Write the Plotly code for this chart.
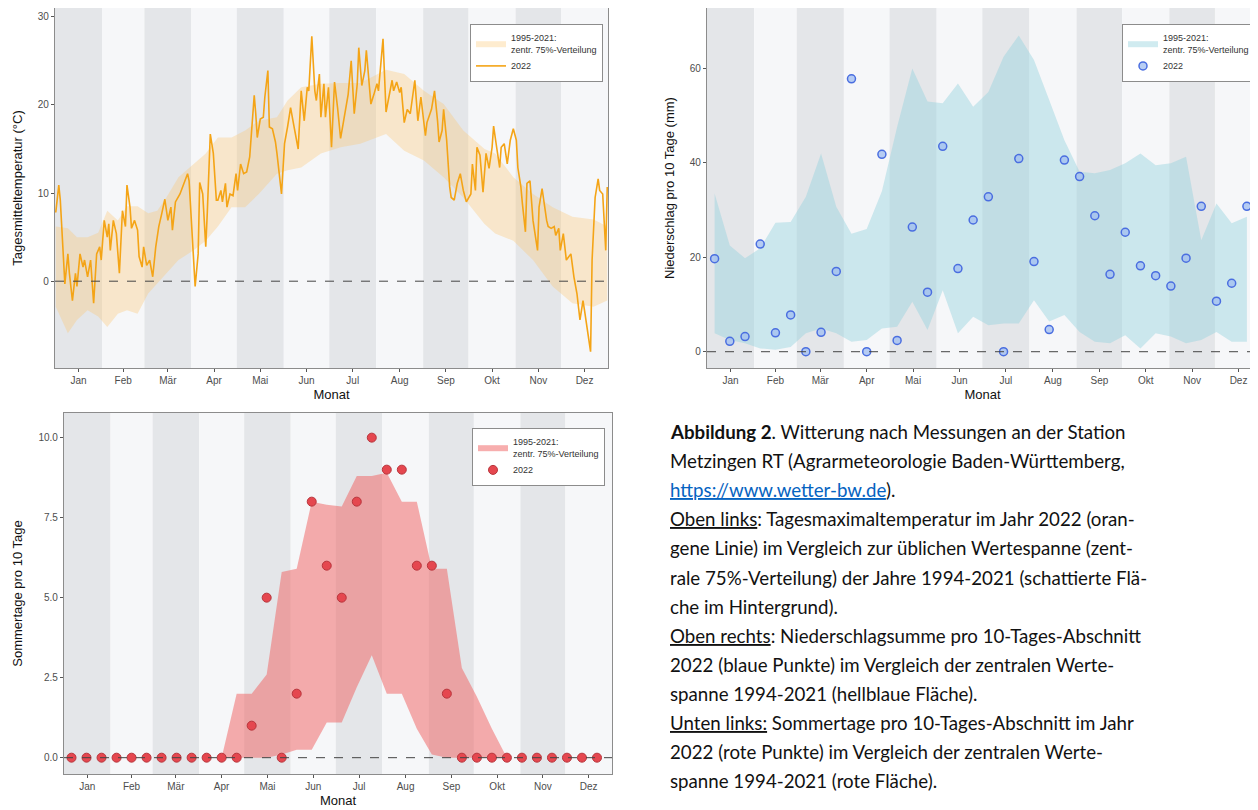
import plotly.graph_objects as go

# page body has an 8px margin at top/left; the figure fills the rest of the window
OFF = 8
W, H = 1258 - OFF, 810 - OFF

# ---------------- data ----------------
month_names = ["Jan", "Feb", "Mär", "Apr", "Mai", "Jun", "Jul", "Aug", "Sep", "Okt", "Nov", "Dez"]
month_lengths = [31, 28, 31, 30, 31, 30, 31, 31, 30, 31, 30, 31]

# daily mean temperature 2022 (day of year, °C)
temp_days = [1, 3, 4, 6, 7, 9, 10, 12, 14, 15, 17, 19, 20, 22, 24, 26, 28, 30, 31, 33, 35, 36, 37, 39, 41, 43,
             45, 47, 48, 50, 51, 53, 55, 56, 58, 59, 61, 63, 65, 67, 69, 71, 73, 75, 77, 78, 80, 83, 85, 88, 89,
             91, 93, 95, 96, 98, 100, 101, 103, 105, 107, 108, 110, 111, 113, 114, 116, 118, 120, 121, 123, 125,
             127, 129, 130, 132, 133, 134, 136, 138, 139, 141, 142, 144, 146, 147, 150, 152, 154, 156, 158, 161,
             163, 165, 167, 168, 170, 172, 173, 175, 176, 178, 179, 181, 183, 185, 187, 189, 191, 194, 196, 198,
             200, 201, 203, 205, 206, 208, 209, 211, 213, 214, 217, 219, 221, 223, 224, 226, 228, 229, 231, 233,
             235, 238, 240, 242, 245, 246, 249, 251, 253, 254, 256, 257, 259, 261, 262, 264, 266, 268, 270, 272,
             275, 276, 278, 279, 281, 283, 285, 287, 289, 290, 292, 294, 295, 297, 299, 301, 303, 305, 306, 308,
             309, 311, 312, 314, 316, 319, 320, 322, 325, 326, 328, 330, 331, 333, 334, 336, 338, 341, 343, 345,
             347, 349, 350, 352, 354, 355, 357, 359, 360, 362, 364, 365]
temp_2022 = [7.8, 10.9, 9.2, 3.1, -0.3, 3.1, 0.9, -2.2, 0.9, -0.6, 3.1, 1.6, 2.4, 0.5, 2.4, -2.5, 3.1, 3.9, 2.4, 6.9,
             5.0, 6.5, 3.5, 6.9, 5.4, 0.9, 8.0, 6.2, 10.9, 8.4, 6.0, 6.9, 5.8, 2.8, 1.6, 3.9, 1.8, 2.4, 0.5, 3.9,
             6.2, 7.7, 9.3, 6.9, 8.4, 5.8, 9.0, 9.9, 10.9, 12.2, 11.4, 5.4, -0.6, 3.1, 11.2, 9.9, 3.9, 7.7, 16.7,
             14.5, 9.2, 9.2, 10.3, 9.0, 11.1, 8.4, 9.9, 9.7, 12.2, 10.3, 13.3, 12.2, 12.4, 14.1, 16.7, 21.1, 19.0,
             16.3, 18.4, 18.6, 20.9, 23.9, 17.5, 17.3, 15.8, 14.5, 9.9, 15.6, 17.5, 19.7, 17.8, 15.0, 21.6, 18.2,
             22.0, 21.6, 27.8, 21.6, 20.5, 23.5, 18.6, 22.4, 18.6, 22.0, 15.2, 22.6, 19.7, 16.2, 18.2, 21.2, 25.0,
             19.0, 22.4, 26.5, 22.2, 23.9, 26.2, 22.0, 20.1, 21.2, 22.4, 21.6, 27.5, 19.2, 20.9, 22.8, 21.6, 22.6,
             21.4, 22.0, 18.0, 19.5, 19.0, 22.8, 18.2, 20.9, 16.5, 18.0, 19.5, 21.6, 18.2, 15.8, 17.1, 19.5, 16.0,
             10.7, 9.5, 9.2, 11.1, 12.2, 10.3, 9.0, 9.9, 13.3, 10.3, 15.2, 14.3, 10.1, 14.5, 12.8, 15.2, 17.6,
             15.2, 12.9, 15.2, 15.6, 13.3, 16.0, 17.3, 16.0, 12.9, 10.7, 8.8, 5.6, 11.1, 11.4, 6.9, 3.5, 8.4, 10.5,
             6.9, 6.2, 6.0, 6.2, 5.2, 6.0, 3.5, 5.4, 2.4, 3.1, 0.5, -1.4, -4.4, -2.2, -3.3, -5.5, -8.0, 2.4, 9.5,
             11.6, 10.3, 9.9, 3.5, 10.7]

# 1995-2021 central 75% band of daily temperature
temp_band_days = [1, 9, 15, 22, 29, 35, 42, 48, 55, 62, 68, 74, 82, 92, 100, 108, 117, 126, 135, 147,
                  154, 163, 176, 189, 202, 219, 231, 244, 257, 270, 284, 291, 303, 316, 329, 342, 356, 365]
temp_band_upper = [6.2, 6.0, 5.0, 5.0, 5.5, 8.0, 6.9, 8.5, 8.5, 7.7, 8.0, 9.5, 11.8, 13.3, 14.5, 16.3, 16.3, 17.1,
                   18.2, 18.6, 20.5, 22.0, 22.4, 22.5, 22.5, 24.0, 23.5, 21.6, 20.1, 17.1, 15.0, 14.5, 11.8, 9.9,
                   8.4, 7.3, 7.0, 6.2]
temp_band_lower = [-2.9, -5.9, -4.4, -3.3, -4.0, -5.2, -3.7, -3.3, -3.7, -1.4, -0.3, 0.9, 2.4, 3.5, 4.6, 6.2, 8.4,
                   8.4, 9.9, 12.2, 12.6, 12.9, 14.5, 15.2, 15.6, 16.7, 14.8, 13.7, 11.8, 9.5, 6.5, 5.4, 4.6, 2.4,
                   -0.6, -2.5, -2.9, -2.2]

# 10-day periods (Dekaden) 1..36
dekade = list(range(1, 37))
precip_2022 = [19.7, 2.2, 3.2, 22.8, 4.0, 7.8, 0.0, 4.1, 17.0, 57.8, 0.0, 41.8, 2.4, 26.4, 12.6, 43.5, 17.6, 27.9,
               32.8, 0.0, 40.9, 19.1, 4.7, 40.6, 37.1, 28.8, 16.4, 25.3, 18.2, 16.1, 13.9, 19.8, 30.8, 10.7, 14.5,
               30.8]
precip_upper = [33.5, 22.5, 19.8, 21.9, 27.3, 27.5, 32.8, 42.0, 30.7, 25.0, 26.0, 34.0, 47.6, 60.0, 53.0, 52.6,
                56.8, 51.9, 55.0, 62.5, 67.0, 61.8, 53.3, 44.8, 38.1, 37.8, 38.5, 39.9, 42.0, 39.5, 39.9, 41.3,
                23.6, 31.4, 27.2, 28.6]
precip_lower = [3.9, 2.5, 1.8, 0.7, 0.4, 1.0, 3.9, 4.9, 3.9, 2.1, 2.5, 4.9, 5.3, 10.6, 4.6, 13.0, 3.9, 7.4, 5.6,
                6.0, 6.0, 10.9, 6.4, 7.8, 4.2, 2.1, 1.8, 3.5, 0.7, 3.9, 3.2, 1.8, 2.5, 4.2, 2.1, 2.1]

summer_2022 = [0, 0, 0, 0, 0, 0, 0, 0, 0, 0, 0, 0, 1, 5, 0, 2, 8, 6, 5, 8, 10, 9, 9, 6, 6, 2,
               0, 0, 0, 0, 0, 0, 0, 0, 0, 0]
summer_upper = [0, 0, 0, 0, 0, 0, 0, 0, 0, 0, 0, 2.0, 2.0, 2.6, 5.8, 5.9, 8.0, 7.9, 7.85, 8.8, 8.8, 8.9, 8.0, 8.0,
                5.9, 5.9, 2.8, 1.9, 0.9, 0, 0, 0, 0, 0, 0, 0]
summer_lower = [0, 0, 0, 0, 0, 0, 0, 0, 0, 0, 0, 0, 0, 0, 0.1, 0.25, 0.25, 1.1, 1.1, 2.2, 3.2, 2.0, 2.0, 0.9, 0.1,
                0, 0, 0, 0, 0, 0, 0, 0, 0, 0, 0]

caption_lines = [
    "<b>Abbildung 2</b>. Witterung nach Messungen an der Station",
    "Metzingen RT (Agrarmeteorologie Baden-Württemberg,",
    '<span style="color:#0563C1;text-decoration:underline">https://www.wetter-bw.de</span>).',
    '<span style="text-decoration:underline">Oben links</span>: Tagesmaximaltemperatur im Jahr 2022 (oran-',
    "gene Linie) im Vergleich zur üblichen Wertespanne (zent-",
    "rale 75%-Verteilung) der Jahre 1994-2021 (schattierte Flä-",
    "che im Hintergrund).",
    '<span style="text-decoration:underline">Oben rechts</span>: Niederschlagsumme pro 10-Tages-Abschnitt',
    "2022 (blaue Punkte) im Vergleich der zentralen Werte-",
    "spanne 1994-2021 (hellblaue Fläche).",
    '<span style="text-decoration:underline">Unten links:</span> Sommertage pro 10-Tages-Abschnitt im Jahr',
    "2022 (rote Punkte) im Vergleich der zentralen Werte-",
    "spanne 1994-2021 (rote Fläche).",
]

# ---------------- derived ----------------
month_start = []
s = 1
for L in month_lengths:
    month_start.append(s)
    s += L
month_mid = [st + (L - 1) / 2 for st, L in zip(month_start, month_lengths)]
dek_x = [10 * k - 4.5 for k in dekade]   # centre day of each 10-day period

FONT = "Liberation Sans, Arial, sans-serif"
GRAY_STRIPE = "#e4e6e9"
LIGHT_STRIPE = "#f6f7f9"


def clamp(v):
    return max(0.0, min(1.0, v))


def px_x(p):
    return clamp((p - OFF) / W)


def px_y(p):
    return clamp(1 - (p - OFF) / H)


fig = go.Figure()

# top-left: temperature
fig.add_trace(go.Scatter(
    x=temp_band_days + temp_band_days[::-1], y=temp_band_upper + temp_band_lower[::-1],
    fill="toself", fillcolor="rgba(253,198,110,0.33)", line=dict(width=0),
    mode="lines", name="1995-2021:<br>zentr. 75%-Verteilung", xaxis="x", yaxis="y", legend="legend",
    hoverinfo="skip"))
fig.add_trace(go.Scatter(
    x=temp_days, y=temp_2022, mode="lines", line=dict(color="#F4A416", width=1.6),
    name="2022", xaxis="x", yaxis="y", legend="legend"))

# top-right: precipitation
fig.add_trace(go.Scatter(
    x=dek_x + dek_x[::-1], y=precip_upper + precip_lower[::-1],
    fill="toself", fillcolor="rgba(150,210,222,0.45)", line=dict(width=0),
    mode="lines", name="1995-2021:<br>zentr. 75%-Verteilung", xaxis="x2", yaxis="y2", legend="legend2",
    hoverinfo="skip"))
fig.add_trace(go.Scatter(
    x=dek_x, y=precip_2022, mode="markers",
    marker=dict(size=8, color="rgba(160,190,240,0.75)", line=dict(color="#4a6ee0", width=1.5)),
    name="2022", xaxis="x2", yaxis="y2", legend="legend2"))

# bottom-left: summer days
fig.add_trace(go.Scatter(
    x=dek_x + dek_x[::-1], y=summer_upper + summer_lower[::-1],
    fill="toself", fillcolor="rgba(240,100,100,0.52)", line=dict(width=0),
    mode="lines", name="1995-2021:<br>zentr. 75%-Verteilung", xaxis="x3", yaxis="y3", legend="legend3",
    hoverinfo="skip"))
fig.add_trace(go.Scatter(
    x=dek_x, y=summer_2022, mode="markers",
    marker=dict(size=9, color="#E5474F", line=dict(color="#B8343B", width=1)),
    name="2022", xaxis="x3", yaxis="y3", legend="legend3"))

shapes = []
for xr, yr in (("x", "y"), ("x2", "y2"), ("x3", "y3")):
    for i, (st, L) in enumerate(zip(month_start, month_lengths)):
        shapes.append(dict(type="rect", xref=xr, yref=yr + " domain", x0=st - 0.5, x1=st + L - 0.5,
                           y0=0, y1=1, fillcolor=GRAY_STRIPE if i % 2 == 0 else LIGHT_STRIPE,
                           line=dict(width=0), layer="below"))
    shapes.append(dict(type="line", xref=xr + " domain", yref=yr, x0=0, x1=1, y0=0, y1=0,
                       line=dict(color="#444444", width=1, dash="dash"), layer="above"))


def xaxis_cfg(left, right, rng, anchor):
    return dict(domain=[px_x(left), px_x(right)], range=rng, tickmode="array", tickvals=month_mid,
                ticktext=month_names, ticks="outside", ticklen=3, tickcolor="#555", showline=True,
                linecolor="#8c8c8c", linewidth=1.2, mirror=True, showgrid=False, zeroline=False, anchor=anchor,
                tickfont=dict(family=FONT, size=10, color="#4d4d4d"),
                title=dict(text="Monat", font=dict(family=FONT, size=13, color="#111"), standoff=4),
                automargin=False)


def yaxis_cfg(top, bottom, rng, ticks, title, anchor, fmt=None):
    d = dict(domain=[px_y(bottom), px_y(top)], range=rng, tickmode="array", tickvals=ticks,
             ticks="outside", ticklen=3, tickcolor="#555", showline=True, linecolor="#8c8c8c", linewidth=1.2,
             mirror=True, showgrid=False, zeroline=False, anchor=anchor,
             tickfont=dict(family=FONT, size=10, color="#4d4d4d"),
             title=dict(text=title, font=dict(family=FONT, size=13, color="#111"), standoff=12),
             automargin=False)
    if fmt:
        d["tickformat"] = fmt
    return d


legend_common = dict(bgcolor="white", bordercolor="#8c8c8c", borderwidth=1,
                     font=dict(family=FONT, size=9, color="#333"), itemwidth=30,
                     xanchor="right", yanchor="top", tracegroupgap=0)

annotations = []
for i, txt in enumerate(caption_lines):
    annotations.append(dict(text=txt, xref="paper", yref="paper", x=px_x(668), y=px_y(432 + 29.1 * i),
                            xanchor="left", yanchor="middle", showarrow=False, align="left",
                            font=dict(family="Lato, Carlito, sans-serif", size=18.7, color="#111")))

fig.update_layout(
    width=W, height=H, margin=dict(l=0, r=0, t=0, b=0),
    paper_bgcolor="white", plot_bgcolor="white",
    xaxis=xaxis_cfg(55, 608, [0.5, 365.5], "y"),
    yaxis=yaxis_cfg(8, 368, [-9.85, 31.0], [0, 10, 20, 30], "Tagesmitteltemperatur (°C)", "x"),
    xaxis2=xaxis_cfg(707, 1258, [0.5, 362.8], "y2"),
    yaxis2=yaxis_cfg(8, 368, [-3.45, 72.8], [0, 20, 40, 60], "Niederschlag pro 10 Tage (mm)", "x2"),
    xaxis3=xaxis_cfg(64, 612, [0.5, 365.5], "y3"),
    yaxis3=yaxis_cfg(413, 774, [-0.51, 10.77], [0, 2.5, 5, 7.5, 10], "Sommertage pro 10 Tage", "x3",
                     fmt=".1f"),
    legend=dict(legend_common, x=px_x(603), y=px_y(24)),
    legend2=dict(legend_common, x=px_x(1255), y=px_y(24)),
    legend3=dict(legend_common, x=px_x(605), y=px_y(428)),
    shapes=shapes, annotations=annotations, showlegend=True,
)

fig.write_html("out.html")
